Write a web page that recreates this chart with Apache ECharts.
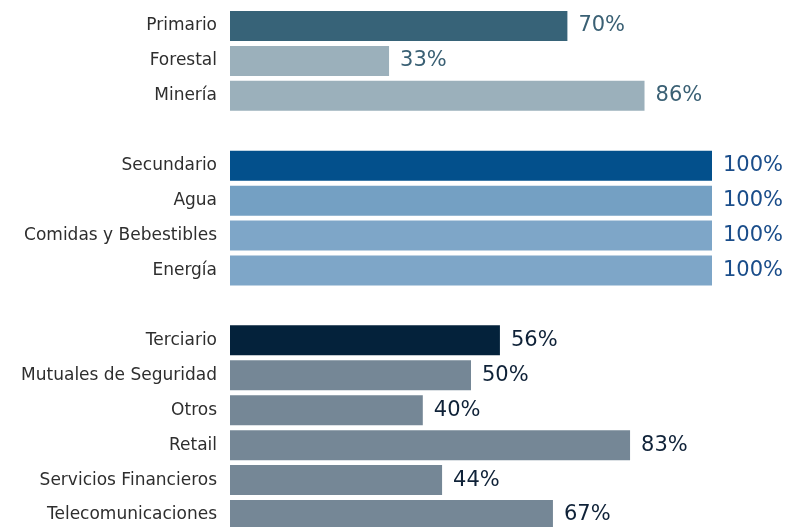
<!DOCTYPE html>
<html>
<head>
<meta charset="utf-8">
<script src="https://cdn.jsdelivr.net/npm/echarts@6/dist/echarts.min.js"></script>
<style>
  html, body { margin: 0; padding: 0; background: #fff; }
  #chart { width: 787px; height: 527px; }
</style>
</head>
<body>
<div id="chart"></div>
<script>
// categories, top to bottom ('' = gap between sectors)
const categories = [
    "Primario", "Forestal", "Minería", "",
    "Secundario", "Agua", "Comidas y Bebestibles", "Energía", "",
    "Terciario", "Mutuales de Seguridad", "Otros", "Retail",
    "Servicios Financieros", "Telecomunicaciones"
];
// percentages
const values = [70, 33, 86, null, 100, 100, 100, 100, null, 56, 50, 40, 83, 44, 67];

// colours per row
const barColors = [
    "#376378", "#9bb0bb", "#9bb0bb", null,
    "#03508c", "#74a0c3", "#7ea6c8", "#7ea6c8", null,
    "#04223b", "#758796", "#758796", "#758796", "#758796", "#758796"
];
const labelColors = [
    "#3a6074", "#3a6074", "#3a6074", null,
    "#1a4d8a", "#1a4d8a", "#1a4d8a", "#1a4d8a", null,
    "#0f2238", "#0f2238", "#0f2238", "#0f2238", "#0f2238", "#0f2238"
];

const chart = echarts.init(document.getElementById("chart"));

const seriesData = values.map(function (v, i) {
    if (v === null) return "-";
    return {
        value: v,
        itemStyle: { color: barColors[i] },
        label: { color: labelColors[i] }
    };
});

const option = {
    animation: false,
    grid: {
        left: 230,
        width: 482,
        top: 8.5,
        height: 524,
        outerBoundsMode: "none"
    },
    xAxis: {
        type: "value",
        min: 0,
        max: 100,
        show: false
    },
    yAxis: {
        type: "category",
        inverse: true,
        data: categories,
        axisLine: { show: false },
        axisTick: { show: false },
        splitLine: { show: false },
        axisLabel: {
            margin: 13,
            color: "#2e2e2e",
            fontFamily: "DejaVu Sans",
            fontSize: 17
        }
    },
    series: [
        {
            type: "bar",
            barWidth: 30,
            data: seriesData,
            label: {
                show: true,
                position: "right",
                distance: 11,
                fontFamily: "DejaVu Sans",
                fontSize: 21,
                formatter: "{c}%"
            }
        }
    ]
};

chart.setOption(option);
</script>
</body>
</html>
